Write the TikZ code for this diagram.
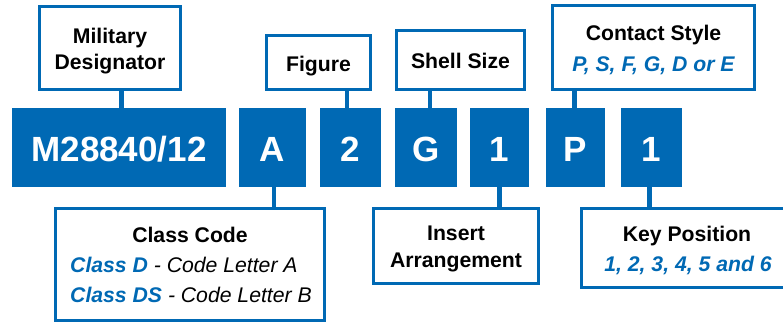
\documentclass[tikz,border=0pt]{standalone}
\usepackage{fontspec}
\setmainfont{Liberation Sans}
\definecolor{mblue}{RGB}{0,105,180}
\newcommand{\lsize}{\fontsize{21.2}{25}\selectfont}
\begin{document}
\begin{tikzpicture}[x=1pt,y=-1pt,
  lbox/.style={draw=mblue,line width=3pt,fill=white,inner sep=0pt},
  bar/.style={fill=mblue,inner sep=0pt,minimum height=79pt,text height=28pt,text depth=0pt,
    text=white,font=\fontsize{35}{40}\selectfont\bfseries},
  conn/.style={draw=mblue,line width=4.6pt},
  ltxt/.style={anchor=base,inner sep=0pt,font=\lsize\bfseries},
  itxt/.style={anchor=base,inner sep=0pt,font=\lsize\bfseries\itshape,text=mblue}]
\useasboundingbox (0,0) rectangle (783,324);

% bar boxes
\node[bar,minimum width=214pt] (bM) at (119,147.5) {M28840/12};
\node[bar,minimum width=67pt] (bA) at (272.5,147.5) {A};
\node[bar,minimum width=61pt] (b2) at (350.5,147.5) {2};
\node[bar,minimum width=62pt] (bG) at (426,147.5) {G};
\node[bar,minimum width=59pt] (b1) at (499.5,147.5) {1};
\node[bar,minimum width=59pt] (bP) at (575.5,147.5) {P};
\node[bar,minimum width=61pt] (bK) at (651.5,147.5) {1};

% label boxes
\node[lbox,minimum width=141pt,minimum height=83pt] (mil) at (110,48) {};
\node[lbox,minimum width=104pt,minimum height=54pt] (fig) at (318.5,62.5) {};
\node[lbox,minimum width=128pt,minimum height=59pt] (shell) at (460.5,60) {};
\node[lbox,minimum width=202pt,minimum height=84pt] (contact) at (653.5,47.5) {};
\node[lbox,minimum width=269pt,minimum height=112pt] (class) at (190,264.5) {};
\node[lbox,minimum width=165pt,minimum height=75pt] (insert) at (456,246) {};
\node[lbox,minimum width=217pt,minimum height=79pt] (key) at (690,248) {};

% connectors
\draw[conn] ([xshift=2.5pt]bM.north) -- ([xshift=2.5pt]bM.north |- mil.south);
\draw[conn] ([xshift=-3.5pt]b2.north) -- ([xshift=-3.5pt]b2.north |- fig.south);
\draw[conn] ([xshift=4pt]bG.north) -- ([xshift=4pt]bG.north |- shell.south);
\draw[conn] ([xshift=-1pt]bP.north) -- ([xshift=-1pt]bP.north |- contact.south);
\draw[conn] ([xshift=1.5pt]bA.south) -- ([xshift=1.5pt]bA.south |- class.north);
\draw[conn] (b1.south) -- (b1.south |- insert.north);
\draw[conn] ([xshift=-2pt]bK.south) -- ([xshift=-2pt]bK.south |- key.north);

% label texts
\node[ltxt] (t1) at (110,43) {Military};
\node[ltxt] (t2) at (110,69) {Designator};
\node[ltxt] (t3) at (318.5,71) {Figure};
\node[ltxt] (t4) at (460.5,68) {Shell Size};
\node[ltxt] (t5) at (653.5,40) {Contact Style};
\node[itxt] (t6) at (653.5,71) {P, S, F, G, D or E};
\node[ltxt] (t7) at (190,242) {Class Code};
\node[anchor=base west,inner sep=0pt] (t8) at (70,272)
  {\lsize{\bfseries\itshape\color{mblue}Class D}\itshape\ - Code Letter A};
\node[anchor=base west,inner sep=0pt] (t9) at (70,302)
  {\lsize{\bfseries\itshape\color{mblue}Class DS}\itshape\ - Code Letter B};
\node[ltxt] (t10) at (456,240.5) {Insert};
\node[ltxt] (t11) at (456,267) {Arrangement};
\node[ltxt] (t12) at (687,241) {Key Position};
\node[itxt] (t13) at (688,271) {1, 2, 3, 4, 5 and 6};
\end{tikzpicture}
\end{document}
